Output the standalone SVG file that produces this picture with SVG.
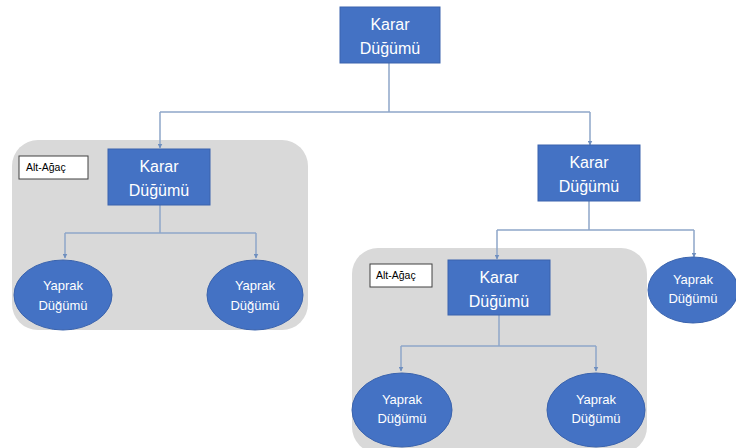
<svg xmlns="http://www.w3.org/2000/svg" width="736" height="448" viewBox="0 0 736 448">
<defs>
<style>
.bg{fill:#ffffff}
.sub{fill:#d9d9d9}
.tag{fill:#ffffff;stroke:#404040;stroke-width:1}
.tagt{font-family:"Liberation Sans",Arial,sans-serif;font-size:10.5px;fill:#000000}
.dec{fill:#4472c4;stroke:#3a63ad;stroke-width:1}
.leaf{fill:#4472c4;stroke:#3a63ad;stroke-width:1}
.dt{font-family:"Liberation Sans",Arial,sans-serif;font-size:16px;fill:#ffffff;text-anchor:middle}
.lt{font-family:"Liberation Sans",Arial,sans-serif;font-size:13px;fill:#ffffff;text-anchor:middle}
.con{fill:none;stroke:#8ea6c9;stroke-width:1.5}
</style>
<marker id="ah" viewBox="0 0 10 10" refX="9" refY="5" markerWidth="5" markerHeight="5" orient="auto" markerUnits="userSpaceOnUse">
<path d="M0,0 L10,5 L0,10 z" fill="#6f8fbf"/>
</marker>
</defs>
<rect class="bg" x="0" y="0" width="736" height="448"/>

<g id="subtree-left">
<rect class="sub" x="12" y="140" width="296" height="190" rx="26" ry="26"/>
<rect class="tag" x="19" y="156" width="69" height="23"/>
<text class="tagt" x="26" y="171">Alt-Ağaç</text>
</g>
<g id="subtree-right">
<rect class="sub" x="352" y="248" width="295" height="205" rx="26" ry="26"/>
<rect class="tag" x="370" y="264" width="62" height="23"/>
<text class="tagt" x="376" y="279">Alt-Ağaç</text>
</g>

<g id="connectors">
<path class="con" d="M389,63 V112"/>
<path class="con" d="M160,112 H590"/>
<path class="con" d="M160,112 V148" marker-end="url(#ah)"/>
<path class="con" d="M590,112 V145" marker-end="url(#ah)"/>
<path class="con" d="M160,205 V233 M65,233 H256"/>
<path class="con" d="M65,233 V258" marker-end="url(#ah)"/>
<path class="con" d="M256,233 V258" marker-end="url(#ah)"/>
<path class="con" d="M589,201 V230 M497,230 H694"/>
<path class="con" d="M497,230 V259" marker-end="url(#ah)"/>
<path class="con" d="M694,230 V257" marker-end="url(#ah)"/>
<path class="con" d="M499,315 V346 M401,346 H596"/>
<path class="con" d="M401,346 V371" marker-end="url(#ah)"/>
<path class="con" d="M596,346 V371" marker-end="url(#ah)"/>
</g>

<g id="root">
<rect class="dec" x="340" y="7" width="100" height="56"/>
<text class="dt" x="390" y="30">Karar</text>
<text class="dt" x="390" y="54">Düğümü</text>
</g>
<g id="decision-left">
<rect class="dec" x="108" y="149" width="102" height="56"/>
<text class="dt" x="159" y="172">Karar</text>
<text class="dt" x="159" y="196">Düğümü</text>
</g>
<g id="decision-right">
<rect class="dec" x="538" y="145" width="102" height="56"/>
<text class="dt" x="589" y="168">Karar</text>
<text class="dt" x="589" y="192">Düğümü</text>
</g>
<g id="decision-sub">
<rect class="dec" x="448" y="260" width="102" height="55"/>
<text class="dt" x="499" y="283">Karar</text>
<text class="dt" x="499" y="307">Düğümü</text>
</g>

<g id="leaf-1">
<ellipse class="leaf" cx="63" cy="295" rx="49" ry="35"/>
<text class="lt" x="63" y="290">Yaprak</text>
<text class="lt" x="63" y="310">Düğümü</text>
</g>
<g id="leaf-2">
<ellipse class="leaf" cx="255" cy="295" rx="48" ry="35"/>
<text class="lt" x="255" y="290">Yaprak</text>
<text class="lt" x="255" y="310">Düğümü</text>
</g>
<g id="leaf-3">
<ellipse class="leaf" cx="693" cy="290" rx="45" ry="33"/>
<text class="lt" x="693" y="284">Yaprak</text>
<text class="lt" x="693" y="303">Düğümü</text>
</g>
<g id="leaf-4">
<ellipse class="leaf" cx="402" cy="410" rx="50" ry="37"/>
<text class="lt" x="402" y="404">Yaprak</text>
<text class="lt" x="402" y="423">Düğümü</text>
</g>
<g id="leaf-5">
<ellipse class="leaf" cx="596" cy="410" rx="49" ry="37"/>
<text class="lt" x="596" y="404">Yaprak</text>
<text class="lt" x="596" y="423">Düğümü</text>
</g>
</svg>
